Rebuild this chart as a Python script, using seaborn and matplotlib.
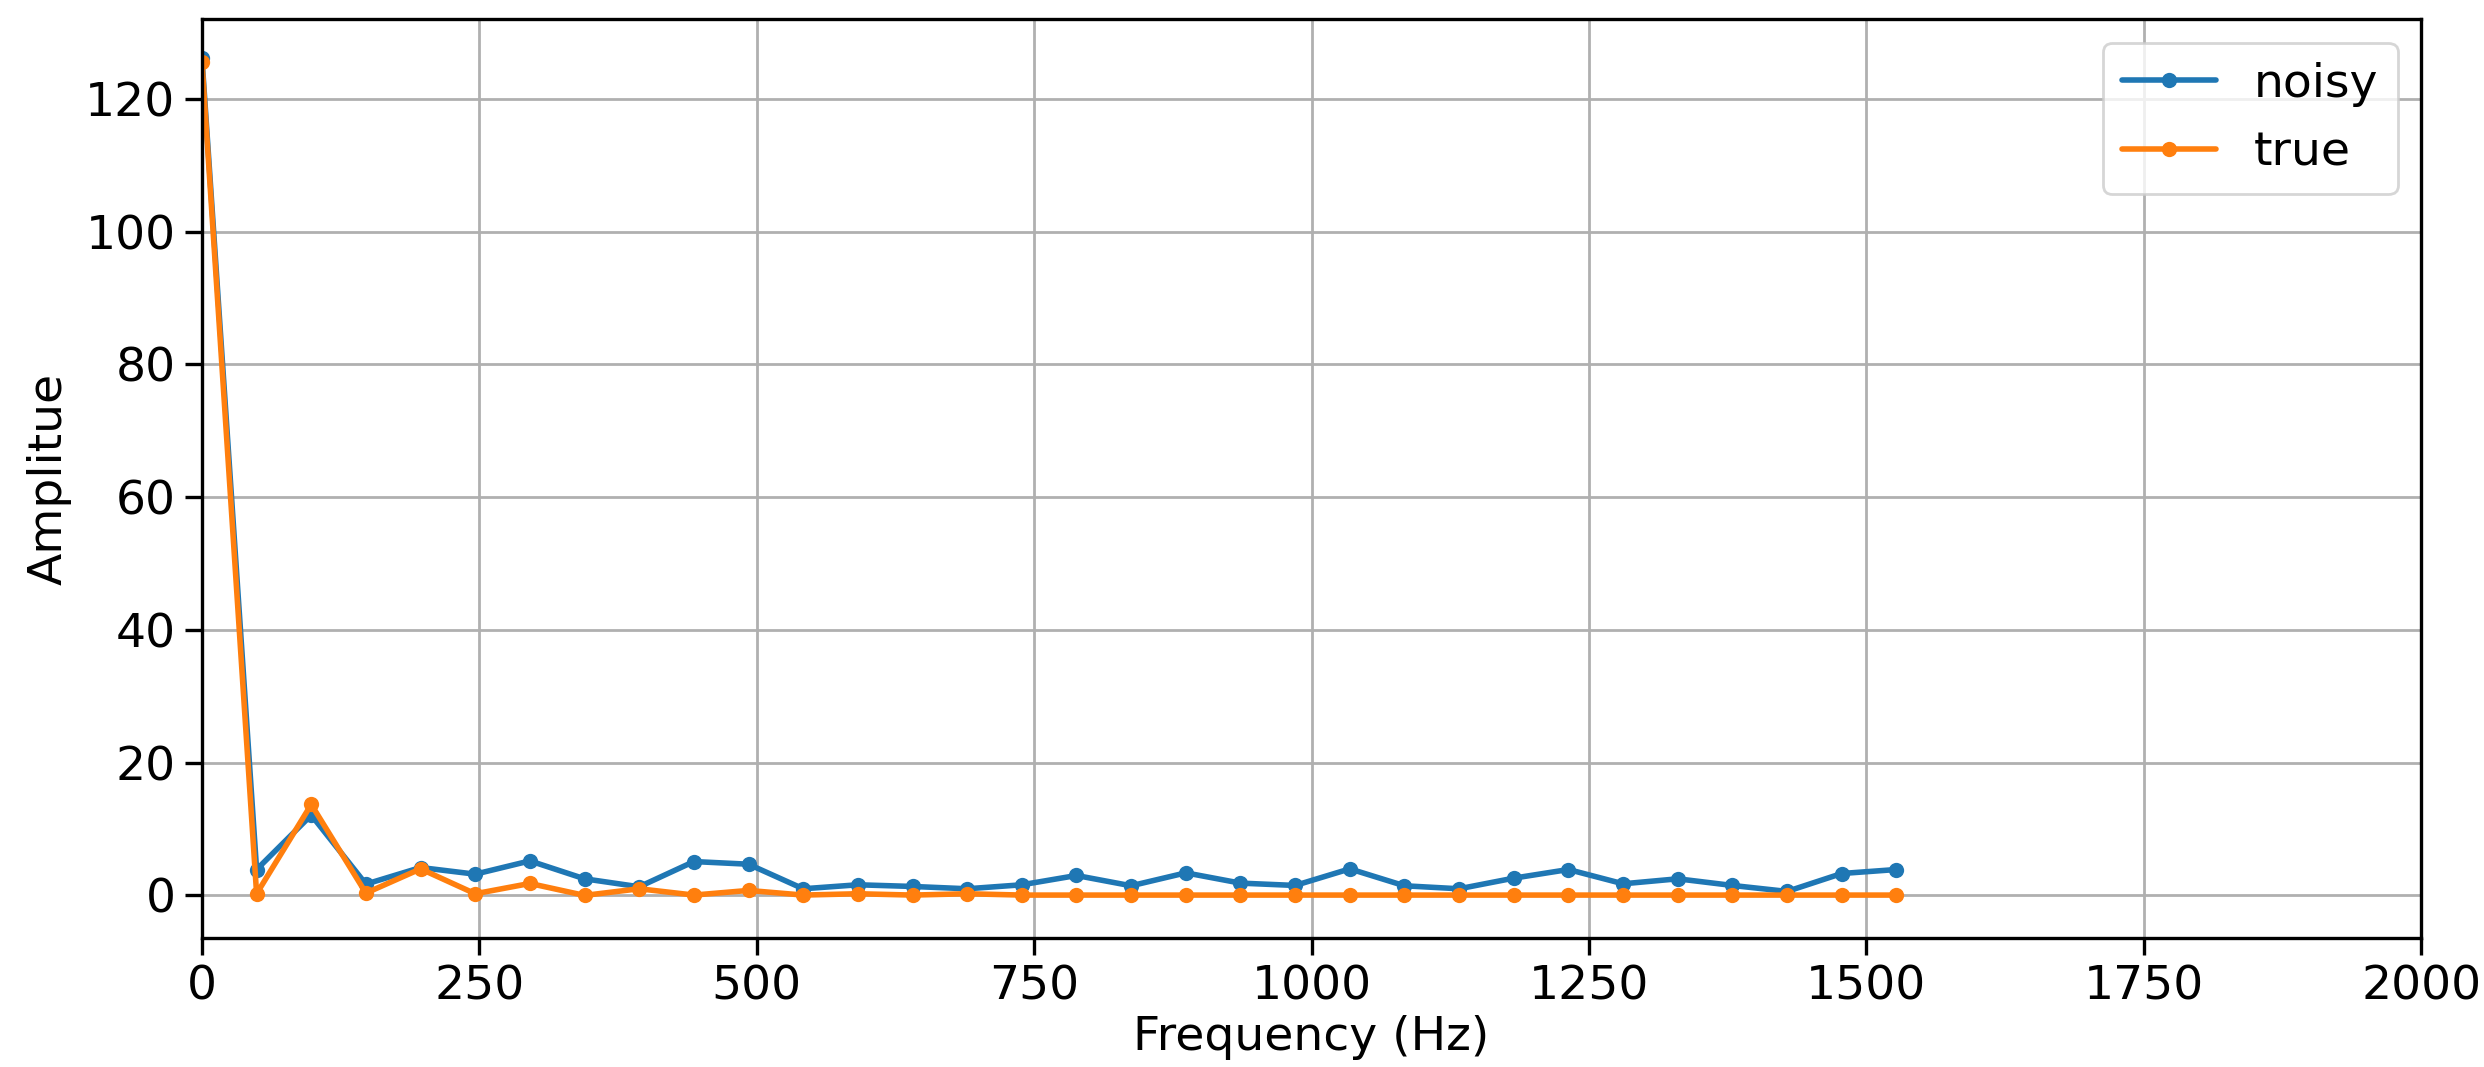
import matplotlib
matplotlib.use("Agg")
import matplotlib.pyplot as plt
import seaborn as sns
import pandas as pd

# Frequency bins (Hz) of the one-sided spectrum
freqs = [0.0, 49.26, 98.52, 147.78, 197.04, 246.3, 295.56, 344.82, 394.08,
         443.34, 492.6, 541.86, 591.12, 640.38, 689.64, 738.9, 788.16,
         837.42, 886.68, 935.94, 985.2, 1034.46, 1083.72, 1132.98, 1182.24,
         1231.5, 1280.76, 1330.02, 1379.28, 1428.54, 1477.8, 1527.06]

# Spectrum amplitude of the noisy signal
noisy = [126.2, 3.9, 12.1, 1.7, 4.2, 3.2, 5.2, 2.5, 1.3, 5.1, 4.7, 1.0,
         1.6, 1.35, 1.0, 1.6, 3.0, 1.45, 3.4, 1.85, 1.5, 4.0, 1.45, 1.0,
         2.6, 3.9, 1.75, 2.5, 1.5, 0.6, 3.3, 3.9]

# Spectrum amplitude of the clean signal
true = [125.6, 0.25, 13.7, 0.35, 4.0, 0.25, 1.8, 0.0, 1.0, 0.05, 0.75, 0.05,
        0.25, 0.05, 0.25, 0.05, 0.05, 0.05, 0.05, 0.05, 0.05, 0.05, 0.05, 0.05,
        0.05, 0.05, 0.05, 0.05, 0.05, 0.05, 0.05, 0.05]

series_names = ["noisy", "true"]

df = pd.concat([
    pd.DataFrame({"freq": freqs, "amp": noisy, "series": series_names[0]}),
    pd.DataFrame({"freq": freqs, "amp": true, "series": series_names[1]}),
])

sns.set_style("white")
plt.rcParams["font.family"] = ["DejaVu Sans"]
plt.rcParams["font.size"] = 17
plt.rcParams["text.color"] = "black"
plt.rcParams["axes.labelcolor"] = "black"

fig = plt.figure(figsize=(12.42, 5.335), dpi=200)
ax = fig.add_axes([0.0813, 0.121, 0.8934, 0.861])

sns.lineplot(data=df, x="freq", y="amp", hue="series", hue_order=series_names,
             palette=["#1f77b4", "#ff7f0e"], marker="o", markersize=5.5,
             markeredgewidth=0, linewidth=2.0, ax=ax, sort=False)

ax.set_xlim(0, 2000)
ax.set_ylim(-6.4, 132)
ax.set_xlabel("Frequency (Hz)", fontsize=17, labelpad=2)
ax.set_ylabel("Amplitue", fontsize=17, labelpad=5)
ax.tick_params(axis="both", labelsize=17, direction="out", length=6,
               width=1.2, left=True, bottom=True, colors="black")
ax.grid(True, color="#b0b0b0", linewidth=1.0)
for s in ax.spines.values():
    s.set_color("black")
    s.set_linewidth(1.2)

handles, labels = ax.get_legend_handles_labels()
ax.legend(handles, labels, loc="upper right", fontsize=17, framealpha=0.8,
          edgecolor="#cccccc", fancybox=True, borderaxespad=0.5)

fig.savefig("out.png", dpi=200)
